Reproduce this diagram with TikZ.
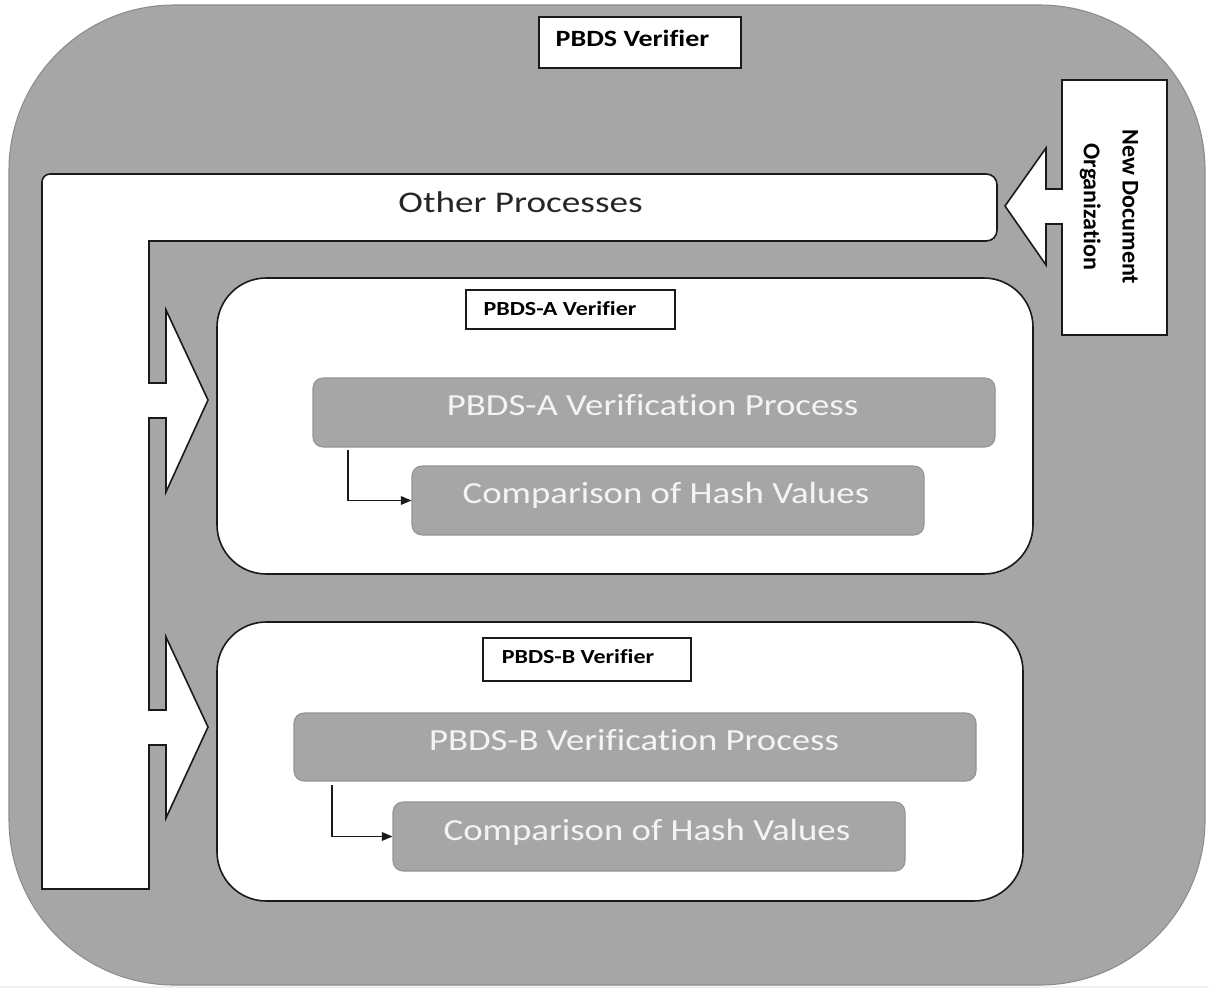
\documentclass[tikz,border=0pt]{standalone}
\usepackage{fontspec}
\setmainfont{Carlito}[Ligatures=NoCommon]
\usepackage{graphicx}
\usetikzlibrary{arrows.meta}
\definecolor{panel}{HTML}{A6A6A6}
\definecolor{rim}{HTML}{8C8C8C}
\definecolor{ink}{HTML}{1A1A1A}
\definecolor{barline}{HTML}{949494}
\definecolor{bartext}{HTML}{F4F4F4}
\newcommand\widetext[2][1.2]{\scalebox{#1}[1]{#2}}

\begin{document}
\begin{tikzpicture}[x=0.75pt,y=-0.75pt,
  outline/.style={draw=ink, line width=1.2pt},
  container/.style={outline, fill=white, rounded corners=37pt, inner sep=0pt},
  tag/.style={outline, fill=white, inner sep=0pt},
  tagtext/.style={font=\bfseries\fontsize{15}{18}\selectfont, anchor=base, inner sep=0pt},
  bar/.style={fill=panel, draw=barline, line width=0.8pt, rounded corners=7.5pt, inner sep=0pt},
  bartxt/.style={font=\fontsize{23}{28}\selectfont, text=bartext, anchor=base, inner sep=0pt},
  link/.style={draw=ink, line width=1.1pt, -{Triangle[length=8pt,width=6.5pt]}},
]
\useasboundingbox (0,0) rectangle (1209,988);
\fill[gray!12] (0,985.5) rectangle (1209,988);

% outer verifier frame
\node[fill=panel, draw=rim, line width=0.8pt, rounded corners=124pt,
      minimum width=897pt, minimum height=735pt, inner sep=0pt] (frame) at (607,495) {};
\node[tag, minimum width=151.5pt, minimum height=38.25pt] (mainTag) at (640,42.5) {};
\node[tagtext, font=\bfseries\fontsize{17.5}{21}\selectfont] (mainTagText) at (632.5,47) {\widetext{PBDS Verifier}};

% other processes band with its two feeding arrows
\draw[outline, fill=white] (42,889) [rounded corners=6pt] -- (42,174)
  [rounded corners=8pt] -- (997,174) -- (997,241) [sharp corners] -- (149,241) -- (149,383)
  -- (166,383) -- (166,310) -- (208,400) -- (166,492) -- (166,418) -- (149,418)
  -- (149,710) -- (166,710) -- (166,637) -- (208,727) -- (166,818) -- (166,745)
  -- (149,745) -- (149,889) -- cycle;
\node[font=\fontsize{22.5}{26}\selectfont, text=black!85, anchor=base, inner sep=0pt]
  (otherText) at (520.5,212) {\widetext[1.24]{Other Processes}};

% new document organization box with its arrow
\draw[outline, fill=white] (1062,80) -- (1167,80) -- (1167,335) -- (1062,335)
  -- (1062,224) -- (1046,224) -- (1046,265) -- (1005,206) -- (1046,148)
  -- (1046,189) -- (1062,189) -- cycle;
\node[rotate=-90, font=\bfseries\fontsize{18}{29}\selectfont, align=center, inner sep=0pt]
  (newDocText) at (1109,207) {New Document\\Organization};

% PBDS-A verifier
\node[container, minimum width=612pt, minimum height=222pt] (verA) at (625,426) {};
\node[tag, minimum width=156.75pt, minimum height=29.25pt] (tagA) at (570.5,309.5) {};
\node[tagtext] (tagAText) at (560,315) {\widetext{PBDS-A Verifier}};
\node[bar, minimum width=511.5pt, minimum height=51.75pt] (procA) at (654,412.5) {};
\node[bartxt] (procAText) at (652.5,415) {\widetext{PBDS-A Verification Process}};
\node[bar, minimum width=384pt, minimum height=51.75pt] (cmpA) at (668,500.5) {};
\node[bartxt] (cmpAText) at (666,503) {\widetext{Comparison of Hash Values}};
\coordinate (forkA) at (348,450);
\draw[link] (forkA) |- (cmpA.west);

% PBDS-B verifier
\node[container, minimum width=604.5pt, minimum height=209.25pt] (verB) at (620,761.5) {};
\node[tag, minimum width=156pt, minimum height=32.25pt] (tagB) at (587,659.5) {};
\node[tagtext] (tagBText) at (578,663.3) {\widetext{PBDS-B Verifier}};
\node[bar, minimum width=511.5pt, minimum height=51pt] (procB) at (635,747) {};
\node[bartxt] (procBText) at (634,750) {\widetext{PBDS-B Verification Process}};
\node[bar, minimum width=384pt, minimum height=51.75pt] (cmpB) at (649,836.5) {};
\node[bartxt] (cmpBText) at (647,840) {\widetext{Comparison of Hash Values}};
\coordinate (forkB) at (332,785);
\draw[link] (forkB) |- (cmpB.west);
\end{tikzpicture}
\end{document}
